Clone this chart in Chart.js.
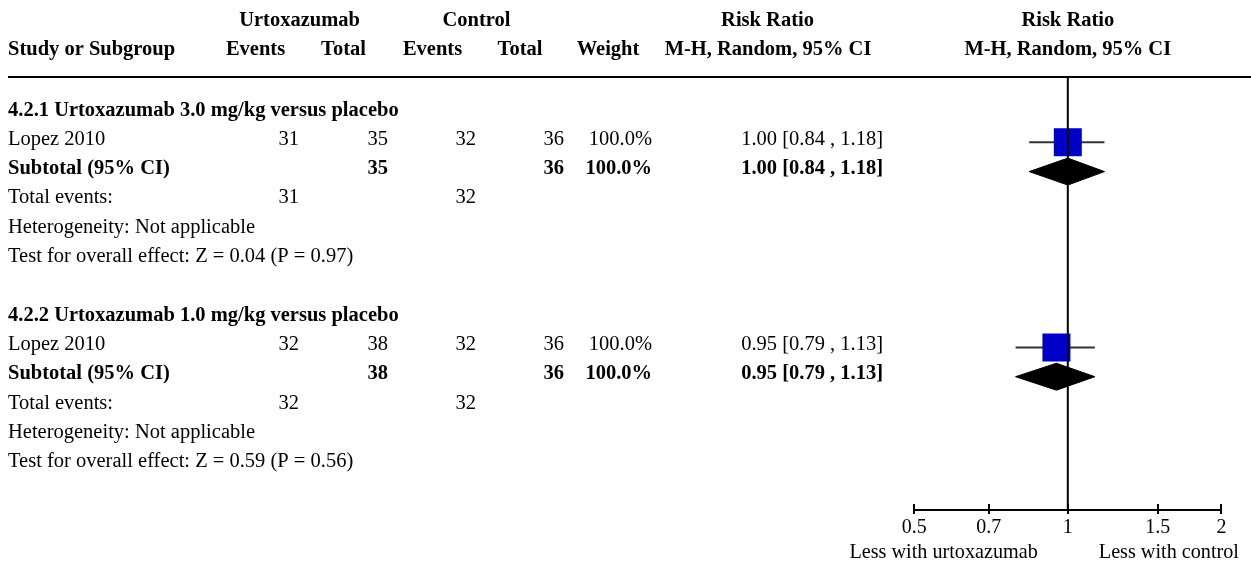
<!DOCTYPE html>
<html>
<head>
<meta charset="utf-8">
<script src="https://cdn.jsdelivr.net/npm/chart.js@4.4.1/dist/chart.umd.min.js"></script>
<style>
  html, body { margin: 0; padding: 0; background: #fff; }
  canvas { display: block; }
</style>
</head>
<body>
<canvas id="forest" width="1251" height="561"></canvas>
<script>
// values
var subgroupNames = ['4.2.1 Urtoxazumab 3.0 mg/kg versus placebo', '4.2.2 Urtoxazumab 1.0 mg/kg versus placebo'];
var studyNames = ['Lopez 2010', 'Lopez 2010'];
var urtoEvents = [31, 32];
var urtoTotal = [35, 38];
var ctrlEvents = [32, 32];
var ctrlTotal = [36, 36];
var weights = [100.0, 100.0];
var riskRatio = [1.00, 0.95];
var ciLow = [0.84, 0.79];
var ciHigh = [1.18, 1.13];
var subRatio = [1.00, 0.95];
var subLow = [0.84, 0.79];
var subHigh = [1.18, 1.13];
var heterogeneity = ['Not applicable', 'Not applicable'];
var zScores = [0.04, 0.59];
var pValues = [0.97, 0.56];
var tickValues = [0.5, 0.7, 1, 1.5, 2];
var favourLabels = ['Less with urtoxazumab', 'Less with control'];

// row layout
var ROWS_PER_GROUP = 7;
var ROW_H = 29.3;
var FIRST_ROW = 113;
var AREA_TOP = 77, AREA_BOTTOM = 510;
var yMin = (AREA_TOP - FIRST_ROW) / ROW_H;
var yMax = (AREA_BOTTOM - FIRST_ROW) / ROW_H;
var DIAMOND_H = 0.46;
var TEXT_SIZE = 20.5;

var cols = {study: 8, urtoEv: 299, urtoTot: 388, ctrlEv: 476, ctrlTot: 564, weight: 652, ci: 883};

function fmtCI(r, lo, hi) {
    return r.toFixed(2) + ' [' + lo.toFixed(2) + ' , ' + hi.toFixed(2) + ']';
}

var datasets = [];
// reference line at RR = 1
datasets.push({
    type: 'line', data: [{x: 1, y: yMin}, {x: 1, y: yMax}],
    borderColor: '#000', borderWidth: 2, pointRadius: 0, order: 0
});
for (var g = 0; g < subgroupNames.length; g++) {
    var studyRow = g * ROWS_PER_GROUP + 1;
    var subRow = g * ROWS_PER_GROUP + 2;
    datasets.push({
        type: 'line', data: [{x: ciLow[g], y: studyRow}, {x: ciHigh[g], y: studyRow}],
        borderColor: '#333', borderWidth: 2, pointRadius: 0, order: 3
    });
    datasets.push({
        type: 'scatter', data: [{x: riskRatio[g], y: studyRow}],
        pointStyle: 'rect', pointRadius: 19.8 * Math.sqrt(weights[g] / 100),
        backgroundColor: '#0000c8', borderWidth: 0, order: 2
    });
    datasets.push({
        type: 'line',
        data: [{x: subLow[g], y: subRow}, {x: subRatio[g], y: subRow - DIAMOND_H},
               {x: subHigh[g], y: subRow}, {x: subRatio[g], y: subRow + DIAMOND_H},
               {x: subLow[g], y: subRow}],
        borderColor: '#000', backgroundColor: '#000', borderWidth: 1,
        fill: 'shape', tension: 0, pointRadius: 0, order: 1
    });
}

var tablePlugin = {
    id: 'forestTable',
    afterDraw: function(chart) {
        var ctx = chart.ctx, xs = chart.scales.x, ys = chart.scales.y, area = chart.chartArea;
        function text(s, px, py, align, bold, size) {
            ctx.font = (bold ? 'bold ' : '') + (size || TEXT_SIZE) + 'px "Liberation Serif"';
            ctx.textAlign = align;
            ctx.fillText(s, px, py);
        }
        function rowY(r) { return ys.getPixelForValue(r) + 2.5; }
        ctx.save();
        ctx.fillStyle = '#000';
        ctx.textBaseline = 'alphabetic';

        // headers
        text('Urtoxazumab', 299.5, 26, 'center', true);
        text('Control', 476.5, 26, 'center', true);
        text('Risk Ratio', 767.5, 26, 'center', true);
        text('Risk Ratio', xs.getPixelForValue(1), 26, 'center', true);
        text('Study or Subgroup', cols.study, 55, 'left', true);
        text('Events', 255.5, 55, 'center', true);
        text('Total', 343.5, 55, 'center', true);
        text('Events', 432.5, 55, 'center', true);
        text('Total', 520, 55, 'center', true);
        text('Weight', 608, 55, 'center', true);
        text('M-H, Random, 95% CI', 768, 55, 'center', true);
        text('M-H, Random, 95% CI', xs.getPixelForValue(1), 55, 'center', true);

        ctx.strokeStyle = '#000';
        ctx.lineWidth = 2;
        ctx.beginPath();
        ctx.moveTo(cols.study, area.top);
        ctx.lineTo(chart.width, area.top);
        ctx.stroke();

        for (var g = 0; g < subgroupNames.length; g++) {
            var b = g * ROWS_PER_GROUP;
            text(subgroupNames[g], cols.study, rowY(b), 'left', true);

            var y1 = rowY(b + 1);
            text(studyNames[g], cols.study, y1, 'left', false);
            text(String(urtoEvents[g]), cols.urtoEv, y1, 'right', false);
            text(String(urtoTotal[g]), cols.urtoTot, y1, 'right', false);
            text(String(ctrlEvents[g]), cols.ctrlEv, y1, 'right', false);
            text(String(ctrlTotal[g]), cols.ctrlTot, y1, 'right', false);
            text(weights[g].toFixed(1) + '%', cols.weight, y1, 'right', false);
            text(fmtCI(riskRatio[g], ciLow[g], ciHigh[g]), cols.ci, y1, 'right', false);

            var y2 = rowY(b + 2);
            text('Subtotal (95% CI)', cols.study, y2, 'left', true);
            text(String(urtoTotal[g]), cols.urtoTot, y2, 'right', true);
            text(String(ctrlTotal[g]), cols.ctrlTot, y2, 'right', true);
            text(weights[g].toFixed(1) + '%', cols.weight, y2, 'right', true);
            text(fmtCI(subRatio[g], subLow[g], subHigh[g]), cols.ci, y2, 'right', true);

            var y3 = rowY(b + 3);
            text('Total events:', cols.study, y3, 'left', false);
            text(String(urtoEvents[g]), cols.urtoEv, y3, 'right', false);
            text(String(ctrlEvents[g]), cols.ctrlEv, y3, 'right', false);

            text('Heterogeneity: ' + heterogeneity[g], cols.study, rowY(b + 4), 'left', false);
            text('Test for overall effect: Z = ' + zScores[g].toFixed(2) + ' (P = ' + pValues[g].toFixed(2) + ')',
                 cols.study, rowY(b + 5), 'left', false);
        }

        // upper half of the axis ticks
        ctx.beginPath();
        for (var i = 0; i < tickValues.length; i++) {
            var px = Math.round(xs.getPixelForValue(tickValues[i]));
            ctx.moveTo(px, area.bottom - 6);
            ctx.lineTo(px, area.bottom);
        }
        ctx.stroke();

        var one = xs.getPixelForValue(1);
        text(favourLabels[0], one - 30, 558, 'right', false, 20.2);
        text(favourLabels[1], one + 31, 558, 'left', false, 20.2);
        ctx.restore();
    }
};

Chart.defaults.font.family = '"Liberation Serif", serif';
Chart.defaults.font.size = 20;
Chart.defaults.color = '#000';

var chart = new Chart(document.getElementById('forest'), {
    type: 'scatter',
    data: {datasets: datasets},
    options: {
        responsive: false,
        animation: false,
        events: [],
        layout: {padding: {left: 914.2, right: 29.6, top: AREA_TOP, bottom: 0}},
        plugins: {legend: {display: false}, tooltip: {enabled: false}},
        scales: {
            x: {
                type: 'logarithmic', min: 0.5, max: 2, bounds: 'data',
                afterBuildTicks: function(s) {
                    s.ticks = tickValues.map(function(v) { return {value: v}; });
                },
                afterFit: function(s) { s.height = 561 - AREA_BOTTOM; },
                grid: {drawOnChartArea: false, drawTicks: true, tickLength: 4, color: '#000', lineWidth: 2},
                border: {display: true, color: '#000', width: 2},
                ticks: {
                    callback: function(v) { return String(v); },
                    color: '#000', font: {size: 20}, padding: 2,
                    maxRotation: 0, autoSkip: false
                }
            },
            y: {
                type: 'linear', display: false, reverse: true,
                min: yMin, max: yMax
            }
        }
    },
    plugins: [tablePlugin]
});
</script>
</body>
</html>
